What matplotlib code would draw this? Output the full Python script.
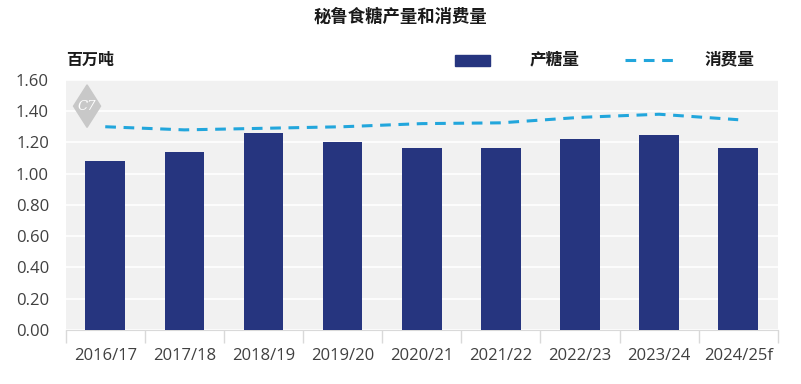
import matplotlib.pyplot as plt
from matplotlib.patches import Rectangle, Polygon
from matplotlib.lines import Line2D
import numpy as np

plt.rcParams['font.family'] = ['Noto Sans CJK SC', 'DejaVu Sans']

seasons = ['2016/17', '2017/18', '2018/19', '2019/20', '2020/21',
           '2021/22', '2022/23', '2023/24', '2024/25f']
production = [1.08, 1.14, 1.26, 1.20, 1.165, 1.165, 1.22, 1.25, 1.165]
consumption = [1.30, 1.28, 1.29, 1.30, 1.32, 1.325, 1.36, 1.38, 1.345]

bar_color = '#26357f'
line_color = '#22a6dc'

fig = plt.figure(figsize=(8.01, 3.84), dpi=100)
ax = fig.add_axes([0.082, 0.141, 0.889, 0.651])
ax.set_facecolor('#f1f1f1')

x = np.arange(len(seasons))
ax.bar(x, production, width=0.5, color=bar_color, zorder=3)
ax.plot(x, consumption, color=line_color, lw=2.2, dashes=(3.5, 2.5), zorder=4)

ax.set_xlim(-0.5, len(seasons) - 0.5)
ax.set_ylim(0, 1.6)
ax.set_yticks(np.arange(0, 1.61, 0.2))
ax.set_yticklabels(['%.2f' % v for v in np.arange(0, 1.61, 0.2)],
                   family='Open Sans')
ax.yaxis.grid(True, color='white', lw=1.2, zorder=1)
ax.set_axisbelow(True)

ax.set_xticks(x)
ax.set_xticklabels(seasons, family='Open Sans')
ax.set_xticks(np.arange(-0.5, len(seasons), 1), minor=True)
ax.tick_params(axis='x', which='major', length=0, pad=13, labelsize=12, labelcolor='#404040')
ax.tick_params(axis='x', which='minor', length=9, color='#d9d9d9', width=1)
ax.tick_params(axis='y', length=0, pad=12, labelsize=12, labelcolor='#404040')
for s in ['top', 'right', 'left']:
    ax.spines[s].set_visible(False)
ax.spines['bottom'].set_color('#d9d9d9')

# watermark
ax.add_patch(Polygon([[0.03, 0.81], [0.049, 0.895], [0.03, 0.98], [0.011, 0.895]],
                     closed=True, transform=ax.transAxes, color='#c8c8c8', zorder=2))
ax.text(0.03, 0.895, 'C7', transform=ax.transAxes, ha='center', va='center',
        color='white', fontsize=9.5, style='italic', family='DejaVu Serif', zorder=2)

fig.text(0.5, 0.955, '秘鲁食糖产量和消费量', ha='center', va='center',
         fontsize=12.5, fontweight='bold', color='#1a1a1a')
fig.text(0.082, 0.845, '百万吨', ha='left', va='center', fontsize=11.5,
         fontweight='bold', color='#1a1a1a')

# legend
fig.patches.append(Rectangle((455 / 801, 1 - 66 / 384), 35 / 801, 11 / 384,
                             transform=fig.transFigure, color=bar_color))
fig.text(530 / 801, 0.845, '产糖量', ha='left', va='center', fontsize=12,
         fontweight='bold', color='#1a1a1a')
fig.lines.append(Line2D([625 / 801, 680 / 801], [0.845, 0.845], transform=fig.transFigure,
                        color=line_color, lw=2.2, dashes=(3.5, 2.5)))
fig.text(705 / 801, 0.845, '消费量', ha='left', va='center', fontsize=12,
         fontweight='bold', color='#1a1a1a')

fig.savefig('out.png', dpi=100)
